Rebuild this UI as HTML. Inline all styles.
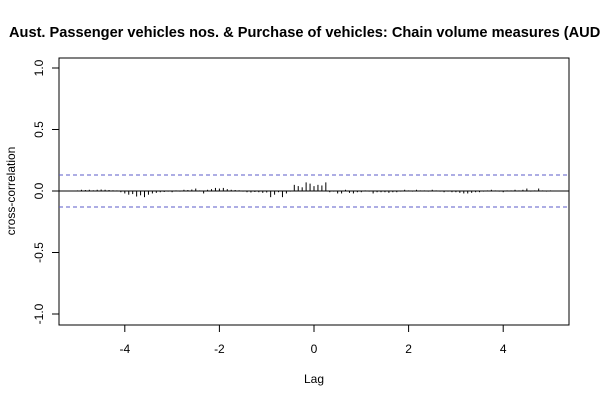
<!DOCTYPE html>
<html><head><meta charset="utf-8"><style>
html,body{margin:0;padding:0;background:#fff;overflow:hidden;width:600px;height:400px}
svg{display:block;font-family:"Liberation Sans",Arial,sans-serif}
</style></head><body>
<svg id="chart" width="600" height="400">
<text x="9" y="37" font-size="14.6" font-weight="bold">Aust. Passenger vehicles nos. &amp; Purchase of vehicles: Chain volume measures (AUD billions)</text>
<rect x="59" y="58" width="510" height="267" fill="none" stroke="#000" stroke-width="1"/>
<g id="marks"></g>
<text x="314" y="383" font-size="12" text-anchor="middle">Lag</text>
<text transform="translate(15,191) rotate(-90)" font-size="12" text-anchor="middle">cross-correlation</text>
</svg>
<script>
const xTicks=[-4,-2,0,2,4];
const yTicks=[-1.0,-0.5,0.0,0.5,1.0];
const yTickLabels=["-1.0","-0.5","0.0","0.5","1.0"];
const ciLimit=0.13;
const lags=[];for(let i=0;i<=120;i++)lags.push(-5+i/12);
const values=[
0.005,0.01,0.008,0.01,0.006,0.01,0.012,0.01,0.008,0.006,0.005,-0.01,
-0.02,-0.03,-0.025,-0.045,-0.035,-0.05,-0.03,-0.02,-0.015,-0.01,-0.008,-0.005,
-0.01,0.005,-0.005,0.01,0.008,0.012,0.02,0.005,-0.02,0.01,0.015,0.025,
0.02,0.025,0.015,0.01,0.008,0.006,-0.005,-0.01,-0.012,-0.008,-0.01,-0.015,
-0.012,-0.05,-0.03,-0.01,-0.05,-0.02,-0.005,0.05,0.04,0.03,0.07,0.06,
0.04,0.05,0.045,0.07,-0.01,-0.005,-0.02,-0.02,0.01,-0.015,-0.02,-0.01,
-0.01,0.005,-0.005,-0.02,-0.01,-0.01,-0.01,-0.015,-0.01,-0.01,-0.005,0.01,
0.005,-0.005,0.01,0.005,0.005,-0.005,0.01,0.005,-0.005,-0.01,-0.005,-0.01,
-0.01,-0.015,-0.02,-0.02,-0.015,-0.01,-0.01,-0.005,0.005,0.01,0.005,-0.005,
-0.01,0.005,0.005,0.01,0.005,0.01,0.02,-0.005,0.005,0.02,0.005,-0.005,0.005
];
const NS="http://www.w3.org/2000/svg";
const xS=v=>314+v*47.3;
const yS=v=>191-v*123;
const g=document.getElementById('marks');
function mk(tag,attrs){const e=document.createElementNS(NS,tag);for(const k in attrs)e.setAttribute(k,attrs[k]);g.appendChild(e);return e;}
let z=mk('line',{x1:59,x2:569,y1:yS(0),y2:yS(0),stroke:'#000','stroke-width':1});


[ciLimit,-ciLimit].forEach((c,i)=>{
 const l=mk('line',{x1:59,x2:569,y1:yS(c),y2:yS(c),stroke:'#5b5bc8','stroke-width':1,'stroke-dasharray':'4,3'});
 
 
});
lags.forEach((lag,i)=>{
 const b=mk('line',{x1:xS(lag),x2:xS(lag),y1:yS(0),y2:yS(values[i]),stroke:'#000','stroke-width':1});
 
 
});
xTicks.forEach(t=>{
 const l=mk('line',{x1:xS(t),x2:xS(t),y1:325,y2:332,stroke:'#000'});
 
 
 const tx=mk('text',{x:xS(t),y:353,'font-size':12,'text-anchor':'middle'});
 tx.textContent=t;
 
 
});
yTicks.forEach((t,i)=>{
 const l=mk('line',{x1:52,x2:59,y1:yS(t),y2:yS(t),stroke:'#000'});
 
 
 const tx=mk('text',{'font-size':12,'text-anchor':'middle',transform:`translate(43,${yS(t)}) rotate(-90)`});
 tx.textContent=yTickLabels[i];
 
 
});
</script>
</body></html>
